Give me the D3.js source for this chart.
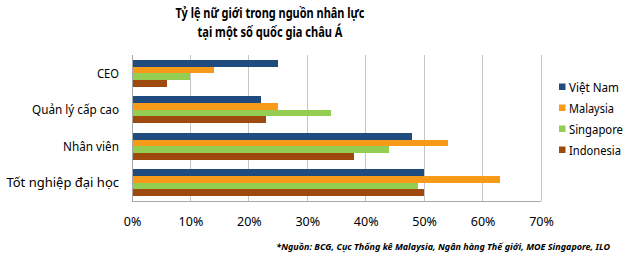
<!DOCTYPE html>
<html>
<head>
<meta charset="utf-8">
<script src="https://cdn.jsdelivr.net/npm/d3@7"></script>
<style>
  html, body { margin: 0; padding: 0; background: #fff; }
  svg { display: block; }
  text { font-family: "Liberation Sans Narrow", "Noto Sans", "DejaVu Sans", sans-serif; fill: #000; }
</style>
</head>
<body>
<svg id="chart" width="640" height="259"></svg>
<script>
const titleLines = ["Tỷ lệ nữ giới trong nguồn nhân lực", "tại một số quốc gia châu Á"];
const categories = ["CEO", "Quản lý cấp cao", "Nhân viên", "Tốt nghiệp đại học"];
const seriesNames = ["Việt Nam", "Malaysia", "Singapore", "Indonesia"];
const seriesColors = ["#1F4B7E", "#F79A1A", "#93CD52", "#9E4A0E"];
const vietNam   = [25, 22, 48, 50];
const malaysia  = [14, 25, 54, 63];
const singapore = [10, 34, 44, 49];
const indonesia = [6, 23, 38, 50];
const seriesValues = [vietNam, malaysia, singapore, indonesia];
const xTicks = [0, 10, 20, 30, 40, 50, 60, 70];
const sourceText = "*Nguồn: BCG, Cục Thống kê Malaysia, Ngân hàng Thế giới, MOE Singapore, ILO";

const svg = d3.select("#chart");

function fit(sel, target) {
  sel.each(function() {
    const w = this.getComputedTextLength();
    if (Math.abs(w - target) > 2) {
      d3.select(this).attr("textLength", target).attr("lengthAdjust", "spacingAndGlyphs");
    }
  });
}
function fitSize(sel, target) {
  sel.each(function() {
    const el = d3.select(this);
    const w = this.getComputedTextLength();
    const fs = parseFloat(el.attr("font-size"));
    if (w > target) el.attr("font-size", fs * target / w);
  });
}

const x = d3.scaleLinear().domain([0, 70]).range([132, 541]);
const y = d3.scaleBand().domain(categories).range([55, 201]).paddingInner(0.27).paddingOuter(0.135);
const ys = d3.scaleBand().domain(seriesNames).range([0, y.bandwidth()]);

// gridlines
svg.append("g").selectAll("line").data(xTicks).join("line")
  .attr("x1", d => x(d)).attr("x2", d => x(d))
  .attr("y1", 55).attr("y2", 201)
  .attr("stroke", "#c4c4c4").attr("stroke-width", 1)
  .attr("shape-rendering", "crispEdges");

// bars
const rows = [];
categories.forEach((c, i) => {
  seriesNames.forEach((s, j) => rows.push({cat: c, ser: s, val: seriesValues[j][i], color: seriesColors[j]}));
});
svg.append("g").selectAll("rect").data(rows).join("rect")
  .attr("x", x(0))
  .attr("y", d => y(d.cat) + ys(d.ser))
  .attr("width", d => x(d.val) - x(0))
  .attr("height", ys.bandwidth())
  .attr("fill", d => d.color)
  .attr("shape-rendering", "crispEdges");

// axis lines
svg.append("line").attr("x1", x(0)).attr("x2", x(0)).attr("y1", 55).attr("y2", 201)
  .attr("stroke", "#a6a6a6").attr("shape-rendering", "crispEdges");
svg.append("line").attr("x1", x(0)).attr("x2", x(70)).attr("y1", 201).attr("y2", 201)
  .attr("stroke", "#a6a6a6").attr("shape-rendering", "crispEdges");

// x tick labels
const xAxis = d3.axisBottom(x).tickValues(xTicks).tickFormat(d => d + "%").tickSize(0).tickPadding(0);
const gx = svg.append("g").attr("transform", "translate(0,217)").call(xAxis);
gx.select(".domain").remove();
gx.selectAll("text").attr("font-size", 12.5).attr("font-family", "'Noto Sans', sans-serif").attr("fill", "#000");

// category labels
const catWidths = {"CEO": 22, "Quản lý cấp cao": 87, "Nhân viên": 56, "Tốt nghiệp đại học": 111};
svg.append("g").selectAll("text").data(categories).join("text")
  .attr("x", 119)
  .attr("y", d => y(d) + y.bandwidth() / 2 + 4.5)
  .attr("text-anchor", "end")
  .attr("font-size", 13)
  .style("font-family", "'Noto Sans', sans-serif")
  .text(d => d)
  .each(function(d) { fit(d3.select(this), catWidths[d]); });

// title
const titleW = [189, 145];
svg.append("g").selectAll("text").data(titleLines).join("text")
  .attr("x", 270)
  .attr("y", (d, i) => 18 + i * 19)
  .attr("text-anchor", "middle")
  .attr("font-size", 15)
  .attr("font-weight", "bold")
  .text(d => d)
  .each(function(d, i) { fit(d3.select(this), titleW[i]); });

// legend
const lg = svg.append("g").selectAll("g").data(seriesNames).join("g")
  .attr("transform", (d, i) => `translate(559, ${87 + i * 21})`);
lg.append("rect").attr("x", 0).attr("y", -3.5).attr("width", 6.5).attr("height", 6.5)
  .attr("fill", (d, i) => seriesColors[i]);
const legW = [50, 45, 54, 52];
lg.append("text").attr("x", 10).attr("y", 4.5).attr("font-size", 12.5)
  .style("font-family", "'Noto Sans', sans-serif")
  .text(d => d)
  .each(function(d, i) { fit(d3.select(this), legW[i]); });

// source
svg.append("text")
  .attr("x", 610).attr("y", 250)
  .attr("text-anchor", "end")
  .attr("font-size", 11)
  .attr("font-weight", "bold")
  .attr("font-style", "italic")
  .text(sourceText)
  .call(s => fitSize(s, 334));
</script>
</body>
</html>
